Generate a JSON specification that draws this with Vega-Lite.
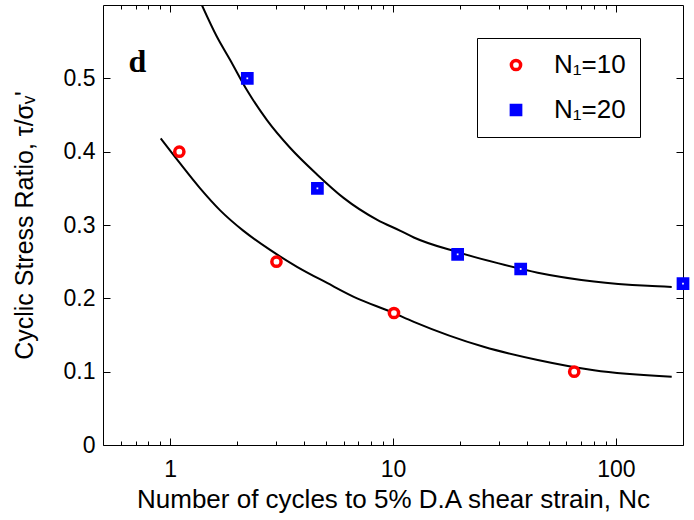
{
  "$schema": "https://vega.github.io/schema/vega-lite/v6.json",
  "width": 580,
  "height": 440,
  "autosize": {"type": "none"},
  "padding": {"left": 103, "top": 5, "right": 11, "bottom": 75},
  "background": "white",
  "config": {
    "view": {"stroke": "black", "strokeWidth": 1},
    "font": "Liberation Sans",
    "axis": {"grid": false, "domain": false, "tickColor": "black", "tickWidth": 1, "labelColor": "black", "titleColor": "black", "titleFontWeight": "normal", "labelFont": "Liberation Sans", "titleFont": "Liberation Sans"},
    "legend": {
      "orient": "none", "legendX": 374, "legendY": 33,
      "padding": 14, "strokeColor": "black", "fillColor": "white",
      "labelFont": "Liberation Sans", "labelFontSize": 26, "labelColor": "black",
      "symbolOffset": 12, "labelOffset": 25, "rowPadding": 19,
      "symbolSize": 85, "symbolStrokeWidth": 3.5, "title": null
    }
  },
  "datasets": {
    "pts": [
      {"N": 1.1, "csr": 0.40, "s": "N₁=10"},
      {"N": 3.0, "csr": 0.25, "s": "N₁=10"},
      {"N": 10.1, "csr": 0.18, "s": "N₁=10"},
      {"N": 65, "csr": 0.10, "s": "N₁=10"},
      {"N": 2.22, "csr": 0.50, "s": "N₁=20"},
      {"N": 4.58, "csr": 0.35, "s": "N₁=20"},
      {"N": 19.5, "csr": 0.26, "s": "N₁=20"},
      {"N": 37.4, "csr": 0.24, "s": "N₁=20"},
      {"N": 200, "csr": 0.22, "s": "N₁=20"}
    ],
    "curves": [
      {"c": "a", "N": 0.908, "csr": 0.418},
      {"c": "a", "N": 1.109, "csr": 0.384},
      {"c": "a", "N": 1.364, "csr": 0.35},
      {"c": "a", "N": 1.677, "csr": 0.32},
      {"c": "a", "N": 2.135, "csr": 0.292},
      {"c": "a", "N": 2.81, "csr": 0.266},
      {"c": "a", "N": 3.71, "csr": 0.243},
      {"c": "a", "N": 5.06, "csr": 0.221},
      {"c": "a", "N": 6.9, "csr": 0.2},
      {"c": "a", "N": 9.74, "csr": 0.182},
      {"c": "a", "N": 12.4, "csr": 0.168},
      {"c": "a", "N": 25.5, "csr": 0.134},
      {"c": "a", "N": 44.6, "csr": 0.116},
      {"c": "a", "N": 79.7, "csr": 0.102},
      {"c": "a", "N": 178, "csr": 0.093},
      {"c": "b", "N": 1.388, "csr": 0.6},
      {"c": "b", "N": 1.62, "csr": 0.557},
      {"c": "b", "N": 1.86, "csr": 0.525},
      {"c": "b", "N": 2.21, "csr": 0.484},
      {"c": "b", "N": 2.72, "csr": 0.443},
      {"c": "b", "N": 3.46, "csr": 0.405},
      {"c": "b", "N": 4.56, "csr": 0.369},
      {"c": "b", "N": 6.0, "csr": 0.337},
      {"c": "b", "N": 8.5, "csr": 0.307},
      {"c": "b", "N": 10.8, "csr": 0.292},
      {"c": "b", "N": 12.4, "csr": 0.283},
      {"c": "b", "N": 19.5, "csr": 0.263},
      {"c": "b", "N": 29.5, "csr": 0.248},
      {"c": "b", "N": 44.6, "csr": 0.235},
      {"c": "b", "N": 79.7, "csr": 0.223},
      {"c": "b", "N": 139, "csr": 0.217},
      {"c": "b", "N": 178, "csr": 0.2155}
    ],
    "lab": [{"N": 0.714, "csr": 0.522, "t": "d"}]
  },
  "layer": [
    {
      "encoding": {
        "x": {
          "field": "N", "type": "quantitative",
          "scale": {"type": "log", "domain": [0.5, 200], "nice": false},
          "axis": {
            "orient": "bottom",
            "values": [0.6, 0.7, 0.8, 0.9, 1, 2, 3, 4, 5, 6, 7, 8, 9, 10, 20, 30, 40, 50, 60, 70, 80, 90, 100],
            "labelExpr": "indexof([1,10,100], datum.value) >= 0 ? datum.value + '' : ''",
            "tickSize": {"condition": {"test": "indexof([1,10,100], datum.value) >= 0", "value": -7}, "value": -4},
            "labelPadding": 20,
            "labelFontSize": 23,
            "labelOverlap": false,
            "labelFlush": false,
            "title": "Number of cycles to 5% D.A shear strain, Nc",
            "titleFontSize": 26,
            "titlePadding": 2
          }
        },
        "y": {
          "field": "csr", "type": "quantitative",
          "scale": {"domain": [0, 0.6], "nice": false, "zero": false},
          "axis": {
            "orient": "left",
            "values": [0, 0.1, 0.2, 0.3, 0.4, 0.5],
            "format": "~g",
            "tickSize": -7,
            "labelPadding": 15,
            "labelFontSize": 23,
            "title": "Cyclic Stress Ratio, τ/σᵥ'",
            "titleFontSize": 25,
            "titlePadding": 26
          }
        }
      },
      "layer": [
        {
          "data": {"name": "curves"},
          "mark": {"type": "line", "color": "black", "strokeWidth": 2, "interpolate": "monotone", "clip": true},
          "encoding": {"detail": {"field": "c"}}
        },
        {
          "data": {"name": "pts"},
          "mark": {"type": "point", "strokeWidth": 3.5, "size": 85, "opacity": 1, "filled": false, "clip": false},
          "encoding": {
            "shape": {"field": "s", "type": "nominal", "scale": {"domain": ["N₁=10", "N₁=20"], "range": ["circle", "square"]}, "legend": {"title": null}},
            "stroke": {"field": "s", "type": "nominal", "scale": {"domain": ["N₁=10", "N₁=20"], "range": ["#ff0000", "#0000ff"]}, "legend": {"title": null}},
            "fill": {"field": "s", "type": "nominal", "scale": {"domain": ["N₁=10", "N₁=20"], "range": ["#ffffff", "#0000ff"]}, "legend": {"title": null}}
          }
        },
        {
          "data": {"name": "pts"},
          "transform": [{"filter": "datum.s == 'N₁=20'"}],
          "mark": {"type": "square", "color": "white", "size": 3, "opacity": 1, "clip": false}
        }
      ]
    },
    {
      "data": {"name": "lab"},
      "mark": {"type": "text", "font": "Liberation Serif", "fontWeight": "bold", "fontSize": 32, "align": "center", "baseline": "middle"},
      "encoding": {
        "text": {"field": "t"},
        "x": {
          "field": "N", "type": "quantitative",
          "scale": {"type": "log", "domain": [0.5, 200], "nice": false},
          "axis": {
            "orient": "top",
            "values": [0.6, 0.7, 0.8, 0.9, 1, 2, 3, 4, 5, 6, 7, 8, 9, 10, 20, 30, 40, 50, 60, 70, 80, 90, 100],
            "labels": false,
            "title": null,
            "tickSize": {"condition": {"test": "indexof([1,10,100], datum.value) >= 0", "value": -7}, "value": -4}
          }
        },
        "y": {
          "field": "csr", "type": "quantitative",
          "scale": {"domain": [0, 0.6], "nice": false, "zero": false},
          "axis": {"orient": "right", "values": [0, 0.1, 0.2, 0.3, 0.4, 0.5], "labels": false, "title": null, "tickSize": -7}
        }
      }
    }
  ],
  "resolve": {"scale": {"x": "independent", "y": "independent"}}
}
